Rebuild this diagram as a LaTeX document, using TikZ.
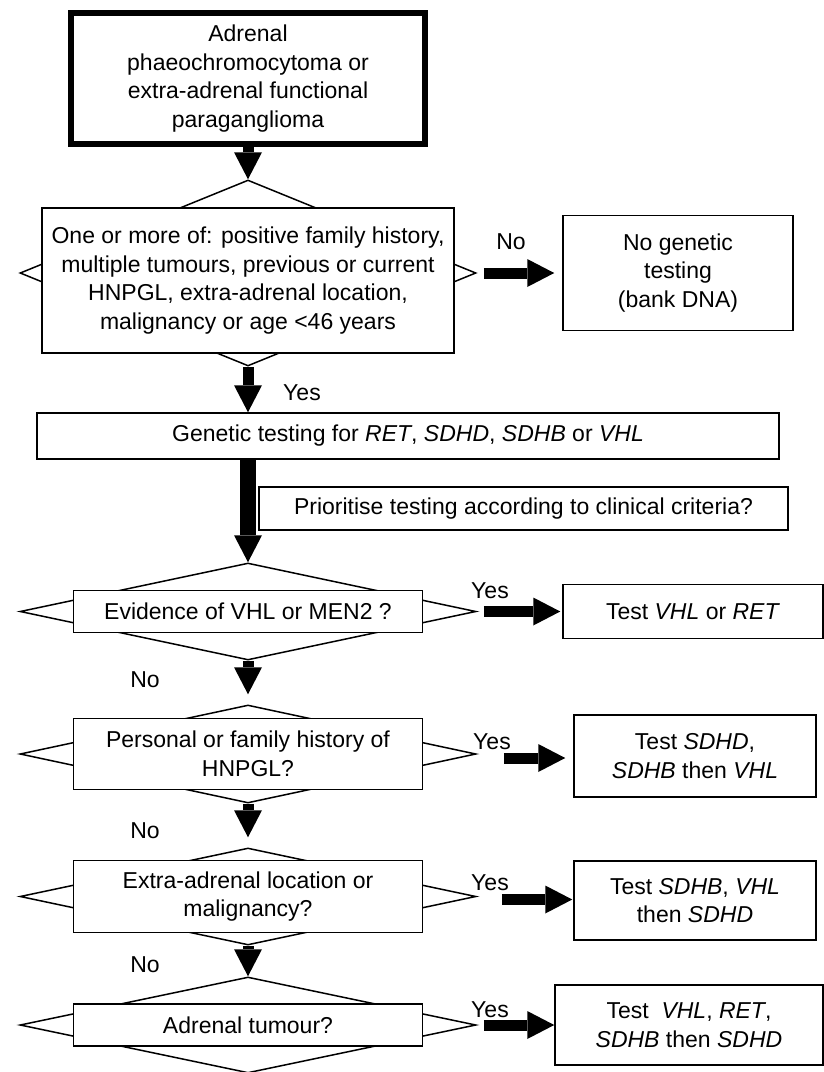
\documentclass[tikz,border=0pt]{standalone}
\usepackage{fontspec}
\setmainfont{Liberation Sans}
\usetikzlibrary{shapes.geometric,arrows.meta,positioning}

\begin{document}
\begin{tikzpicture}[x=1pt, y=-1pt, node distance=10pt,
  font=\fontsize{23}{28.5}\selectfont,
  box/.style = {draw, rectangle, fill=white, line width=1.5pt, inner sep=0pt, align=center},
  dmd/.style = {draw, diamond, line width=1.5pt, inner sep=0pt, minimum width=456pt},
  blk/.style = {line width=11pt, -{Triangle[length=27pt, width=28pt, line width=0pt]}},
  lbl/.style = {inner sep=0pt}]
  \useasboundingbox (0,0) rectangle (823,1072);
  % start and first question
  \node[box, line width=6pt, minimum width=354pt, minimum height=131pt] (start) at (248,78.5) {Adrenal\\phaeochromocytoma or\\extra-adrenal functional\\paraganglioma};
  \node[dmd, minimum height=186pt] (d1) [below of=start, node distance=194.5pt] {};
  \node[box, minimum width=412pt, minimum height=145pt, yshift=-7.5pt] (q1) at (d1) {One or more of: positive family history,\\multiple tumours, previous or current\\HNPGL, extra-adrenal location,\\malignancy or age <46 years};
  \node[box, minimum width=230pt, minimum height=115pt] (nogen) [right of=d1, node distance=430pt] {No genetic\\testing\\(bank DNA)};
  % testing
  \node[box, minimum width=742pt, minimum height=46pt] (gen) at (408,436) {Genetic testing for \textit{RET}, \textit{SDHD}, \textit{SDHB} or \textit{VHL}};
  \node[box, minimum width=529pt, minimum height=43pt] (pri) at (523.5,508.5) {Prioritise testing according to clinical criteria?};
  % questions
  \node[dmd, minimum height=97pt] (d2) [below of=d1, node distance=338.5pt] {};
  \node[box, minimum width=349pt, minimum height=42pt] (q2) at (d2) {Evidence of VHL or MEN2 ?};
  \node[box, minimum width=260pt, minimum height=54pt] (t2) [right of=d2, node distance=445pt] {Test \textit{VHL} or \textit{RET}};
  \node[dmd, minimum height=98pt] (d3) [below of=d2, node distance=142.5pt] {};
  \node[box, minimum width=349pt, minimum height=71pt] (q3) at (d3) {Personal or family history of\\HNPGL?};
  \node[box, minimum width=242pt, minimum height=82pt, yshift=-2pt] (t3) [right of=d3, node distance=447pt] {Test \textit{SDHD},\\\textit{SDHB} then \textit{VHL}};
  \node[dmd, minimum height=97pt] (d4) [below of=d3, node distance=142.5pt] {};
  \node[box, minimum width=349pt, minimum height=72pt] (q4) at (d4) {Extra-adrenal location or\\malignancy?};
  \node[box, minimum width=242pt, minimum height=79pt, yshift=-4pt] (t4) [right of=d4, node distance=447pt] {Test \textit{SDHB}, \textit{VHL}\\then \textit{SDHD}};
  \node[dmd, minimum height=96pt] (d5) [below of=d4, node distance=128.5pt] {};
  \node[box, minimum width=349pt, minimum height=42pt] (q5) at (d5) {Adrenal tumour?};
  \node[box, minimum width=268pt, minimum height=80pt] (t5) [right of=d5, node distance=441pt] {Test\ \ \textit{VHL}, \textit{RET},\\\textit{SDHB} then \textit{SDHD}};
  % labels
  \node[lbl] (no1) at (511,242) {No};
  \node[lbl] (yes1) at (302,393) {Yes};
  \node[lbl] (yes2) at (490,591) {Yes};
  \node[lbl] (no2) at (145,680) {No};
  \node[lbl] (yes3) at (492,742) {Yes};
  \node[lbl] (no3) at (145,831) {No};
  \node[lbl] (yes4) at (490,883) {Yes};
  \node[lbl] (no4) at (145,965) {No};
  \node[lbl] (yes5) at (490,1010) {Yes};
  % arrows
  \draw[blk] (start) -- (d1);
  \draw[blk, shorten <=7pt, shorten >=8pt] (d1.east) -- (nogen.west |- d1.east);
  \draw[blk] (d1.south) -- (d1.south |- gen.north);
  \draw[blk, line width=16pt] (gen.south -| d2.north) -- (d2.north);
  \draw[blk, shorten >=10pt] (d2.south) -- (d3.north);
  \draw[blk, shorten >=10pt] (d3.south) -- (d4.north);
  \draw[blk] (d4.south) -- (d5.north);
  \draw[blk, shorten <=7pt, shorten >=2pt] (d2.east) -- (t2.west |- d2.east);
  \draw[blk, shorten <=27pt, shorten >=8pt] ([yshift=-4pt]d3.east) -- ([yshift=-4pt]t3.west |- d3.east);
  \draw[blk, shorten <=25pt, shorten >=1pt] ([yshift=-3pt]d4.east) -- ([yshift=-3pt]t4.west |- d4.east);
  \draw[blk, shorten <=7pt] (d5.east) -- (t5.west |- d5.east);
\end{tikzpicture}
\end{document}
